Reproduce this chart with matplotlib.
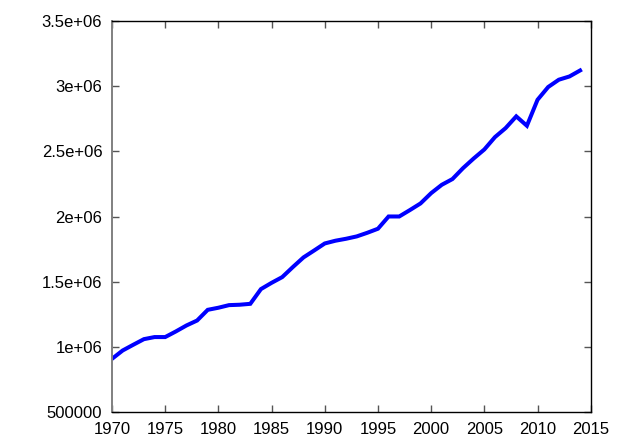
import matplotlib
matplotlib.use("Agg")
import matplotlib.pyplot as plt
from matplotlib.ticker import FixedLocator, FixedFormatter

years = list(range(1970, 2015))
values = [
    0.909e6, 0.973e6, 1.017e6, 1.060e6, 1.076e6, 1.076e6, 1.119e6, 1.165e6,
    1.203e6, 1.285e6, 1.301e6, 1.321e6, 1.324e6, 1.331e6, 1.444e6, 1.492e6,
    1.536e6, 1.613e6, 1.687e6, 1.740e6, 1.794e6, 1.815e6, 1.830e6, 1.848e6,
    1.876e6, 1.907e6, 2.001e6, 2.001e6, 2.050e6, 2.101e6, 2.180e6, 2.244e6,
    2.288e6, 2.372e6, 2.446e6, 2.515e6, 2.610e6, 2.679e6, 2.769e6, 2.697e6,
    2.896e6, 2.994e6, 3.050e6, 3.075e6, 3.121e6,
]

x_ticks = [1970, 1975, 1980, 1985, 1990, 1995, 2000, 2005, 2010, 2015]
y_ticks = [500000, 1e6, 1.5e6, 2e6, 2.5e6, 3e6, 3.5e6]
y_labels = ["500000", "1e+06", "1.5e+06", "2e+06", "2.5e+06", "3e+06", "3.5e+06"]

plt.rcParams["font.family"] = ["Liberation Sans", "DejaVu Sans"]

fig = plt.figure(figsize=(6.4, 4.48), dpi=100)
ax = fig.add_axes([0.175, 0.080, 0.748, 0.873])
ax.plot(years, values, color=(0, 0, 1), linewidth=2.9, solid_joinstyle="miter")

ax.set_xlim(1970, 2015)
ax.set_ylim(500000, 3.5e6)
ax.xaxis.set_major_locator(FixedLocator(x_ticks))
ax.yaxis.set_major_locator(FixedLocator(y_ticks))
ax.yaxis.set_major_formatter(FixedFormatter(y_labels))

ax.tick_params(direction="in", top=True, right=True, length=5, width=1,
               labelsize=12, color="#555555", labelcolor="black", pad=7)
for spine in ax.spines.values():
    spine.set_color("black")
    spine.set_linewidth(1)
ax.spines["left"].set_color("#808080")
ax.spines["left"].set_linewidth(1.4)

fig.savefig("out.png", dpi=100)
